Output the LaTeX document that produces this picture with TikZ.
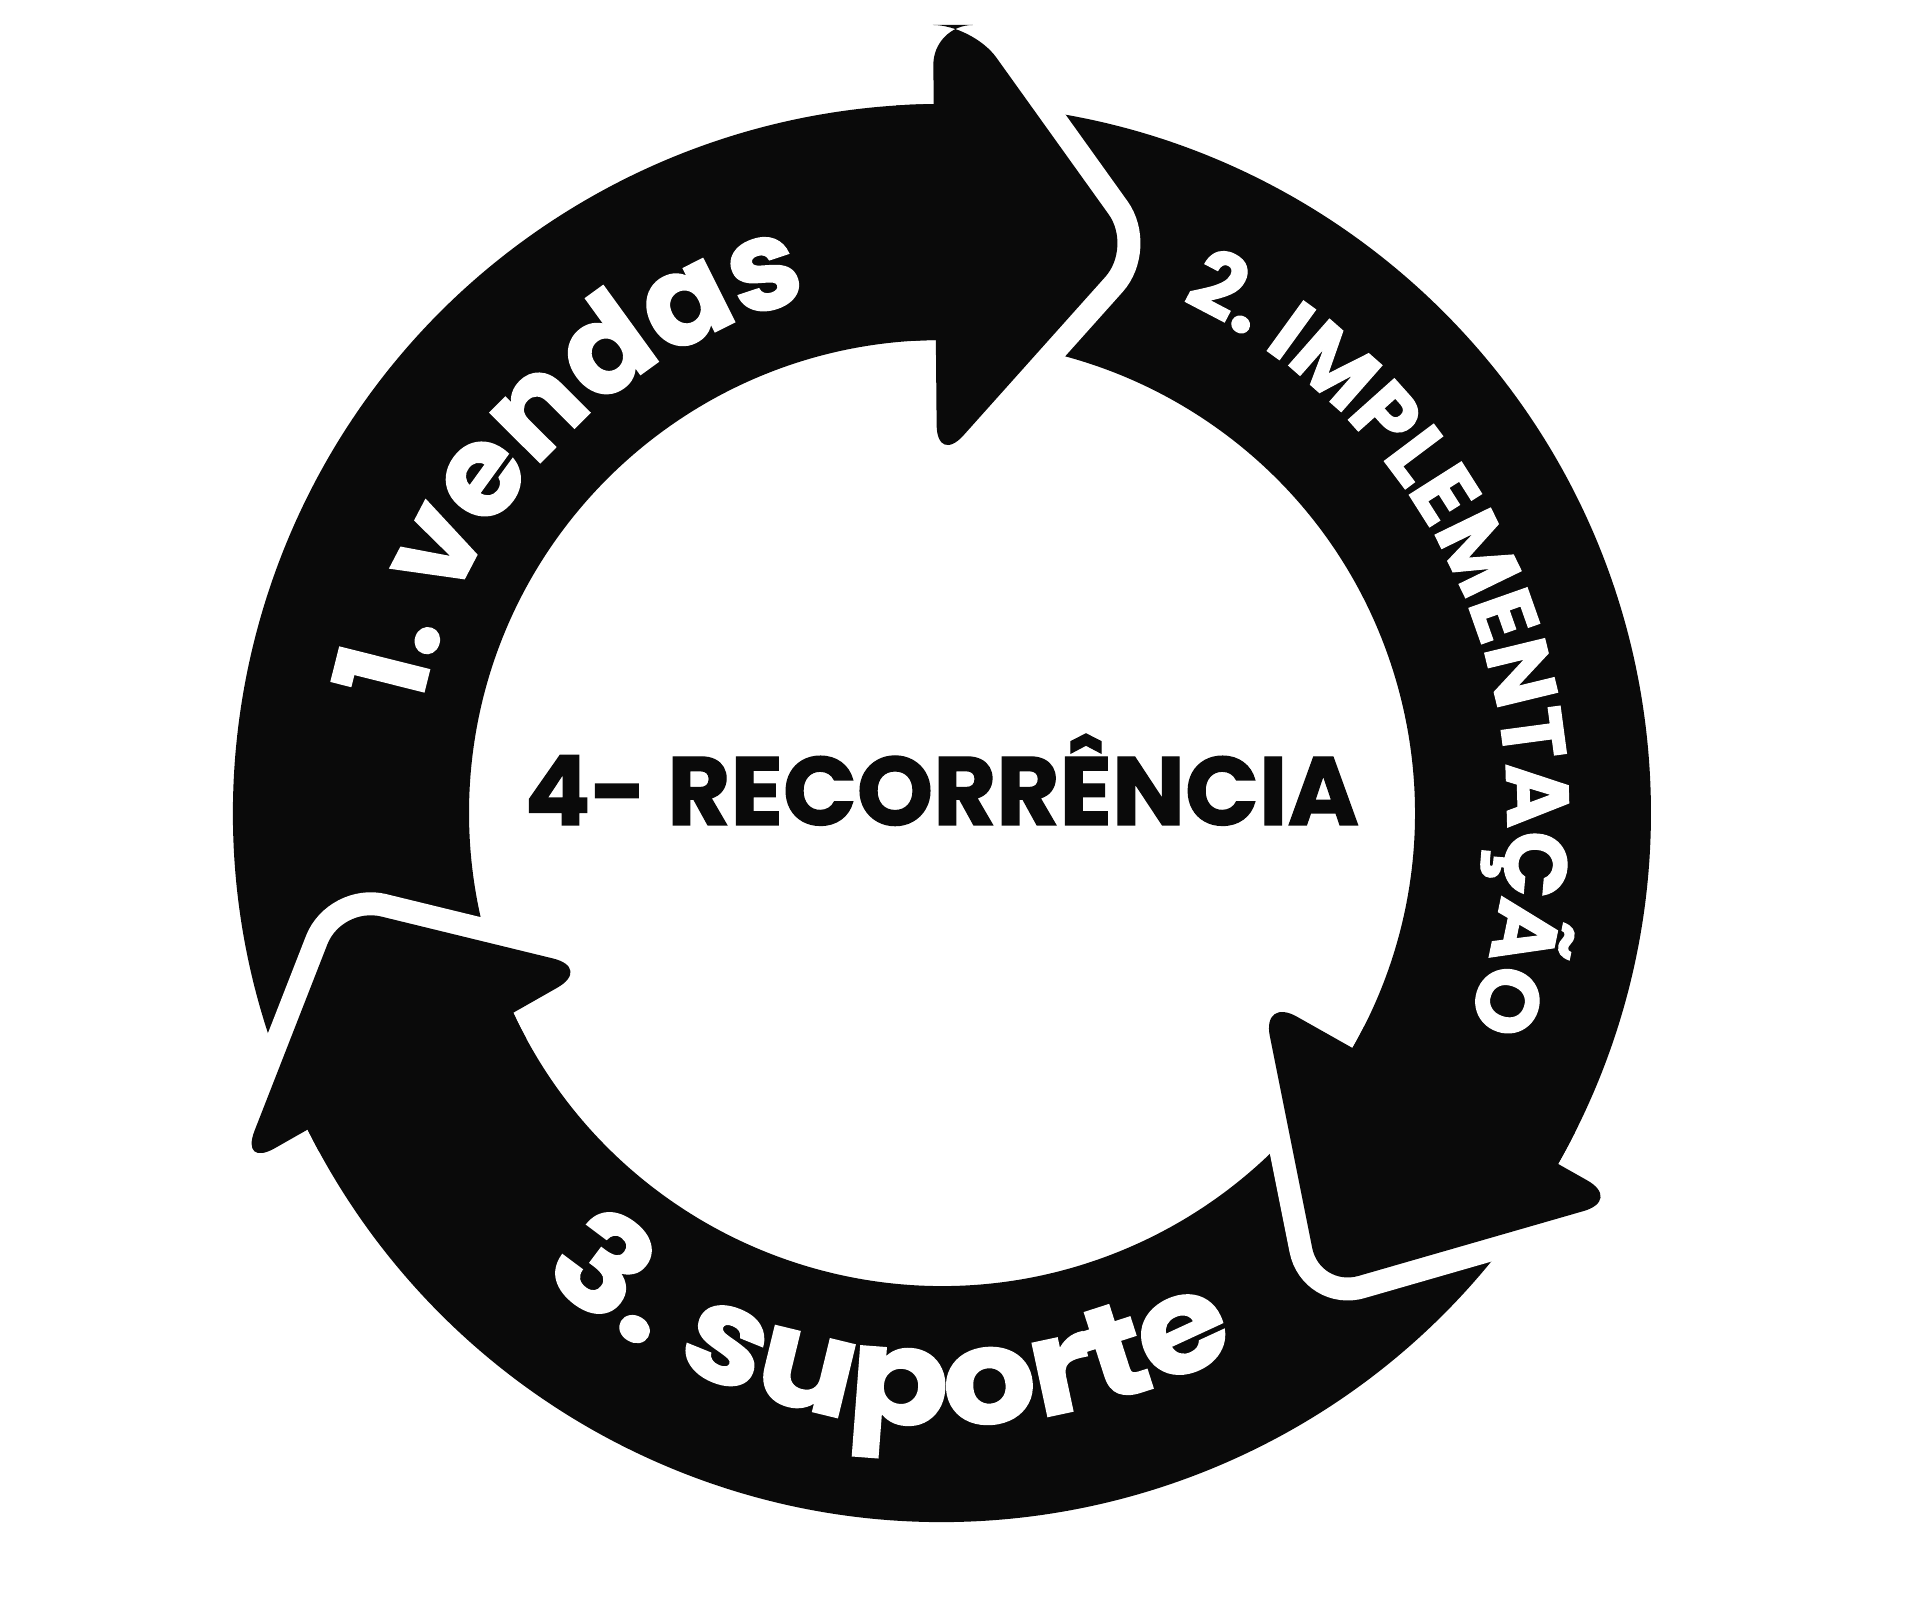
\documentclass[tikz,border=0pt]{standalone}
\usepackage{fontspec}
\usetikzlibrary{decorations.text}
\newfontfamily\labelfont{Poppins}[BoldFeatures={FakeBold=1.3}]
\newfontfamily\widefont{Poppins}[BoldFeatures={FakeBold=1.3, FakeStretch=1.1}]
\definecolor{ringblack}{HTML}{0A0A0A}

\begin{document}
\begin{tikzpicture}[x=0.1mm, y=0.1mm,
    ring/.style={fill=ringblack},
    gap/.style={draw=white, line width=4.6mm, rounded corners=4mm},
    head/.style={fill=ringblack, rounded corners=4mm},
    arclabel/.style={decorate, decoration={text along path, text align=center, text={#1}}}]
\useasboundingbox (-942,-797) rectangle (984,813);

% anello
\foreach \s/\e in {208.5/87.7, 93.7/-32.8, 333.2/202.5} {
    \fill[ring] (\s:709) arc[start angle=\s, end angle=\e, radius=709]
        -- (\e:473) arc[start angle=\e, end angle=\s, radius=473] -- cycle;
}

% punte
\draw[gap] (-5,348) -- (190,566) -- (31,788) -- (-9,788);
\fill[head] (-5,348) -- (190,566) -- (31,788) -- (-9,788) -- cycle;
\draw[gap] (320,-184) -- (378,-474) -- (680,-387);
\fill[head] (320,-184) -- (378,-474) -- (680,-387) -- cycle;
\draw[gap] (-350,-155) -- (-600,-94) -- (-702,-355);
\fill[head] (-350,-155) -- (-600,-94) -- (-702,-355) -- cycle;

% scritte
\path[arclabel={|\labelfont\bfseries\fontsize{36}{36}\selectfont\color{white}|1. vendas}]
    (196.5:532) arc[start angle=196.5, end angle=76.5, radius=532];
\path[arclabel={|\labelfont\bfseries\fontsize{25}{25}\selectfont\color{white}|2. IMPLEMENTA^^^^00c7^^^^00c3O}]
    (81.5:565) arc[start angle=81.5, end angle=-38.5, radius=565];
\path[arclabel={|\widefont\bfseries\fontsize{38}{38}\selectfont\color{white}|3. suporte}]
    (204:612) arc[start angle=204, end angle=324, radius=612];

\node[anchor=base, text=ringblack, font=\labelfont\bfseries\fontsize{27.6}{27.6}\selectfont]
    (recorrencia) at (0,-12) {4- RECORR^^^^00caNCIA};
\end{tikzpicture}
\end{document}
